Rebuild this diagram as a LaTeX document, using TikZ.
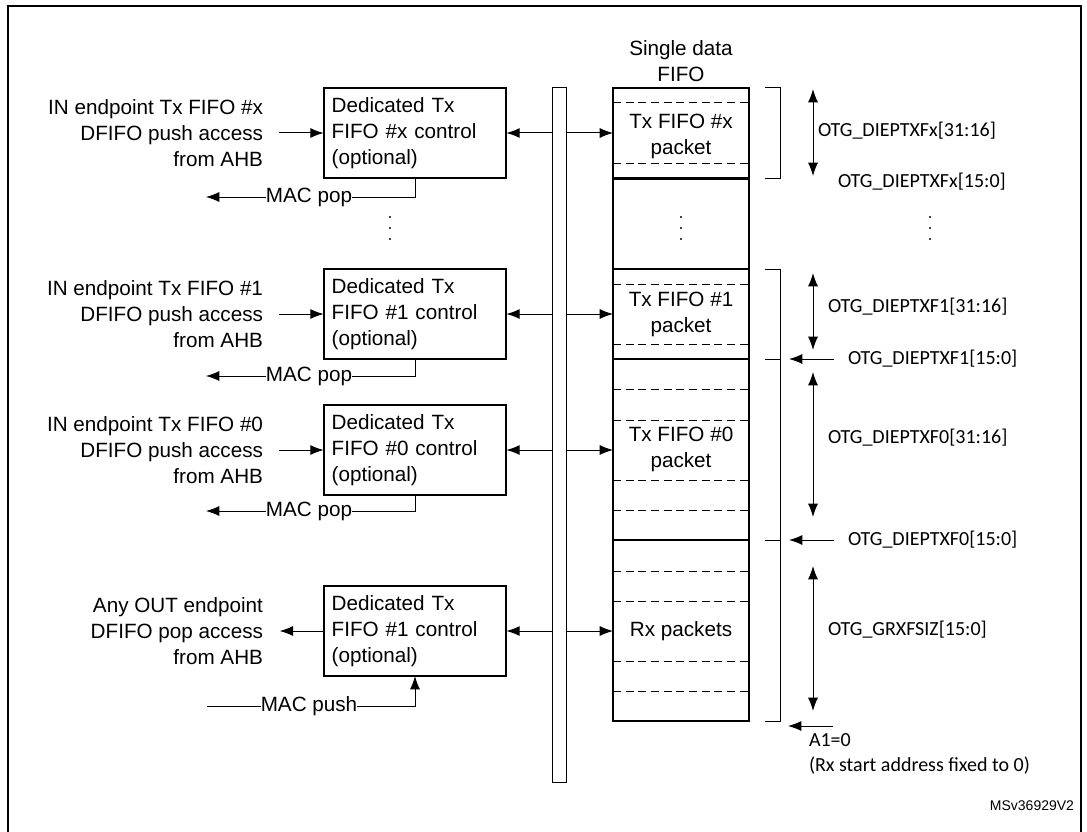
\documentclass[tikz,border=0pt]{standalone}
\usepackage{fontspec}
\setmainfont{Liberation Sans}
\newfontfamily\calib{Carlito}
\usetikzlibrary{arrows.meta}
\begin{document}
\begin{tikzpicture}[x=0.75pt,y=-0.75pt,
  every node/.style={inner sep=0pt,outer sep=0pt},
  txt/.style={font=\fontsize{15.5}{19.5}\selectfont},
  lbl/.style={font=\calib\fontsize{15}{19.5}\selectfont,anchor=west},
  box/.style={draw,line width=1.5pt,minimum width=137pt,minimum height=67.5pt,
     font=\fontsize{15.5}{19.5}\selectfont,align=left,text width=125pt},
  sec/.style={draw,line width=1.5pt,minimum width=102pt,font=\fontsize{15.5}{19.5}\selectfont,align=center},
  dsh/.style={dashed,dash pattern=on 6pt off 3.5pt,line width=0.75pt},
  thin/.style={line width=0.75pt},
  arr/.style={thin,-{Latex[length=10pt,width=7.5pt]}},
  darr/.style={thin,{Latex[length=10pt,width=7.5pt]}-{Latex[length=10pt,width=7.5pt]}}]
\useasboundingbox (0,0) rectangle (1087,831);
\clip (0,0) rectangle (1087,831);
\draw[line width=1.5pt] (8,6) rectangle (1081,840);
% bus
\node[draw,thin,minimum width=11pt,minimum height=520.5pt] (bus) at (559.5,435) {};
% FIFO sections
\node[sec,minimum height=67.5pt] (s1) at (681,133) {};
\node[sec,minimum height=67.5pt] (s2) at (681,223.5) {};
\node[sec,minimum height=67.5pt] (s3) at (681,314) {};
\node[sec,minimum height=135.75pt] (s4) at (681,449.5) {};
\node[sec,minimum height=135.75pt] (s5) at (681,630.5) {};
\node[txt,align=center] (sdf) at (681,61) {Single data\\FIFO};
\node[txt,align=center] at (681,136) {Tx FIFO \#x\\packet};
\node[txt,align=center] at (681,314) {Tx FIFO \#1\\packet};
\node[txt,align=center] at (681,449) {Tx FIFO \#0\\packet};
\node[txt] at (681,631) {Rx packets};
\foreach \y in {103,163,284,344,389,420,480,510,571,601,661,691}
  \draw[dsh] (613,\y) -- (749,\y);
% vertical ellipses
\foreach \x in {390,681,930}
  \foreach \y in {217,228,239}
    \fill (\x,\y) circle[radius=1.1];
% brackets
\draw[thin] (765,88) -- (780,88) -- (780,178) -- (765,178);
\draw[thin] (765,269) -- (780,269) -- (780,721) -- (765,721);
\draw[thin] (765,359) -- (780,359);
\draw[thin] (765,540) -- (780,540);
% right arrows and labels
\coordinate (a1t) at (813,89); \coordinate (a1b) at (813,176);
\coordinate (a2t) at (813,273); \coordinate (a2b) at (813,350);
\coordinate (a3t) at (813,372); \coordinate (a3b) at (813,517);
\coordinate (a4t) at (813,566); \coordinate (a4b) at (813,711);
\draw[darr] (a1t) -- (a1b);
\draw[darr] (a2t) -- (a2b);
\draw[darr] (a3t) -- (a3b);
\draw[darr] (a4t) -- (a4b);
\node[lbl] (lx1) at (818,131) {OTG\_DIEPTXFx[31:16]};
\node[lbl] (lx2) at (838,182) {OTG\_DIEPTXFx[15:0]};
\node[lbl] (l11) at (828,307) {OTG\_DIEPTXF1[31:16]};
\node[lbl] (l12) at (848,359) {OTG\_DIEPTXF1[15:0]};
\node[lbl] (l01) at (828,438) {OTG\_DIEPTXF0[31:16]};
\node[lbl] (l02) at (848,540) {OTG\_DIEPTXF0[15:0]};
\node[lbl] (lrx) at (828,630) {OTG\_GRXFSIZ[15:0]};
\node[lbl] (la1) at (809,740) {A1=0};
\node[lbl] (lrs) at (809,766) {(Rx start address fixed to 0)};
\coordinate (p1) at (834,359); \coordinate (p1e) at (789,359);
\coordinate (p0) at (834,540); \coordinate (p0e) at (789,540);
\coordinate (pa) at (833,726); \coordinate (pae) at (788,726);
\draw[arr] (p1) -- (p1e);
\draw[arr] (p0) -- (p0e);
\draw[arr] (pa) -- (pae);
\node[font=\fontsize{10.5}{12}\selectfont,anchor=east] at (1074,806) {MSv36929V2};
% left boxes
\node[box] (b1) at (415,133) {Dedicated Tx\\FIFO \#x control\\(optional)};
\node[box] (b2) at (415,314) {Dedicated Tx\\FIFO \#1 control\\(optional)};
\node[box] (b3) at (415,450) {Dedicated Tx\\FIFO \#0 control\\(optional)};
\node[box] (b4) at (415,631) {Dedicated Tx\\FIFO \#1 control\\(optional)};
\node[txt,align=right,anchor=east] (i1) at (263,133) {IN endpoint Tx FIFO \#x\\DFIFO push access\\from AHB};
\node[txt,align=right,anchor=east] (i2) at (263,314) {IN endpoint Tx FIFO \#1\\DFIFO push access\\from AHB};
\node[txt,align=right,anchor=east] (i3) at (263,450) {IN endpoint Tx FIFO \#0\\DFIFO push access\\from AHB};
\node[txt,align=right,anchor=east] (i4) at (263,631) {Any OUT endpoint\\DFIFO pop access\\from AHB};
\draw[arr] (i1.east)+(16,0) -- (b1.west);
\draw[arr] (i2.east)+(16,0) -- (b2.west);
\draw[arr] (i3.east)+(16,0) -- (b3.west);
\draw[arr] (b4.west) -- ++(-44,0);
\foreach \b/\s in {b1/s1,b2/s3,b3/s4,b4/s5}{
  \draw[arr] (bus.west |- \b.east) -- (\b.east);
  \draw[arr] (bus.east |- \b.east) -- (\s.west |- \b.east);
}
% MAC pop / push
\node[txt] (m1) at (309,197) {MAC pop};
\node[txt] (m2) at (309,376) {MAC pop};
\node[txt] (m3) at (309,511) {MAC pop};
\node[txt] (m4) at (309,706) {MAC push};
\foreach \b/\m in {b1/m1,b2/m2,b3/m3}{
  \draw[thin] (\b.south) -- (\b.south |- \m.east) -- (\m.east);
  \draw[arr] (\m.west) -- ++(-60,0);
}
\draw[thin] (m4.west) -- ++(-54,0);
\draw[arr] (m4.east) -- (b4.south |- m4.east) -- (b4.south);
\end{tikzpicture}
\end{document}
